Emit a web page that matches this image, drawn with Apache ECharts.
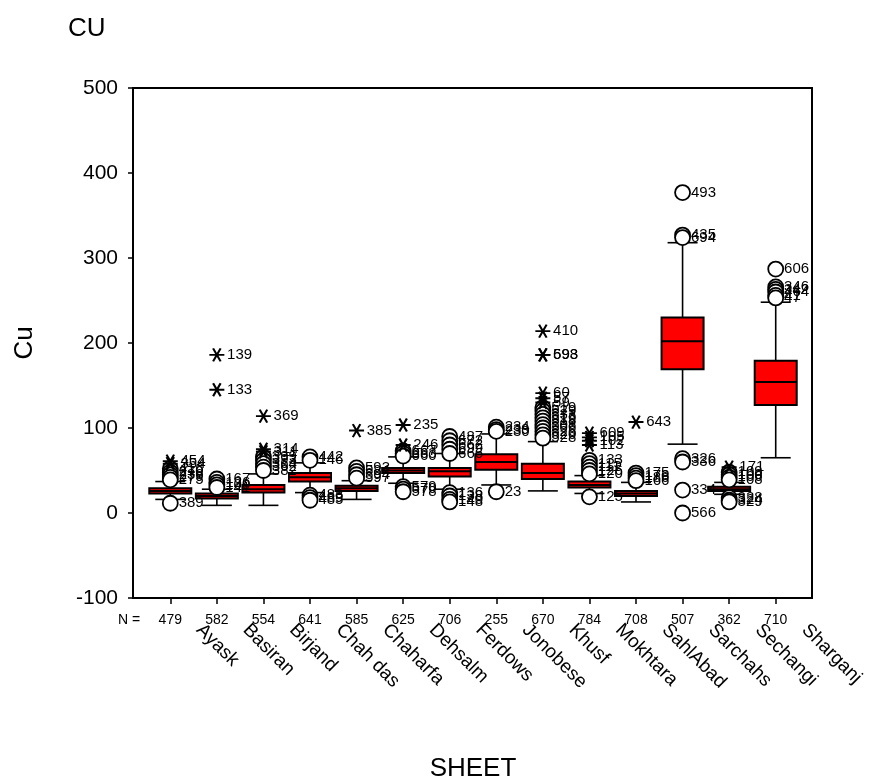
<!DOCTYPE html>
<html lang="en">
<head>
    <meta charset="UTF-8">
    <title>CU</title>
    <script src="https://cdn.jsdelivr.net/npm/echarts@6/dist/echarts.min.js"></script>
    <style>
        body { margin: 0; background: #fff; }
    </style>
</head>
<body>
    <div id="chart_div" style="width: 885px; height: 782px;"></div>
</body>
    <script type="text/javascript">

       // sites and case counts
       var sheets = ['Ayask', 'Basiran', 'Birjand', 'Chah das', 'Chaharfa', 'Dehsalm', 'Ferdows',
                     'Jonobese', 'Khusf', 'Mokhtara', 'SahlAbad', 'Sarchahs', 'Sechangi', 'Sharganj'];
       var counts = ['479', '582', '554', '641', '585', '625', '706', '255', '670', '784', '708', '507', '362', '710'];

       // box statistics
       var whiskerLow  = [16, 9, 9, 24, 16, 35, 28, 33, 26, 23, 13, 81, 22, 65];
       var q1          = [23, 17, 24, 37, 26, 47, 43, 51, 40, 30, 20, 169, 26, 127];
       var median      = [26, 20, 28, 42, 29, 50, 49, 60, 47, 33, 23, 202, 28, 154];
       var q3          = [29, 23, 33, 47, 32, 53, 53, 69, 58, 37, 26, 230, 31, 179];
       var whiskerHigh = [37, 28, 46, 59, 38, 66, 70, 93, 84, 44, 36, 318, 36, 248];

       // outliers (circles): [site index, value, case]
       var outliers = [
           [0, 52, '416'], [0, 48, '270'], [0, 45, '236'], [0, 42, '279'], [0, 39, '275'], [0, 11.5, '389'],
           [1, 40, '167'], [1, 36, '126'], [1, 33, '100'], [1, 30, '141'],
           [2, 66, '399'], [2, 62, '393'], [2, 58, '364'], [2, 54, '362'], [2, 50, '382'],
           [3, 66, '442'], [3, 62, '146'], [3, 21, '488'], [3, 18, '489'], [3, 15, '485'],
           [4, 53, '593'], [4, 49, '584'], [4, 45, '594'], [4, 41, '597'],
           [5, 73, '667'], [5, 70, '663'], [5, 67, '660'], [5, 31, '579'], [5, 28, '570'], [5, 25, '578'],
           [6, 90, '487'], [6, 85, '672'], [6, 80, '662'], [6, 75, '699'], [6, 70, '666'],
           [6, 24, '136'], [6, 20, '138'], [6, 16, '140'], [6, 13, '148'],
           [7, 101, '234'], [7, 98, '239'], [7, 96, '230'], [7, 25, '23'],
           [8, 124, '519'], [8, 120, '529'], [8, 116, '533'], [8, 112, '516'], [8, 108, '518'],
           [8, 104, '508'], [8, 100, '506'], [8, 96, '526'], [8, 92, '520'], [8, 88, '528'],
           [9, 62, '133'], [9, 58, '115'], [9, 54, '111'], [9, 50, '126'], [9, 46, '120'], [9, 19, '125'],
           [10, 47, '175'], [10, 44, '176'], [10, 41, '186'], [10, 38, '166'],
           [11, 377, '493'], [11, 327, '435'], [11, 324, '694'], [11, 64, '326'], [11, 60, '336'],
           [11, 27, '334'], [11, 0, '566'],
           [12, 48, '109'], [12, 45, '100'], [12, 42, '106'], [12, 39, '108'],
           [12, 18, '328'], [12, 15, '324'], [12, 13, '329'],
           [13, 287, '606'], [13, 266, '346'], [13, 263, '342'], [13, 260, '464'], [13, 256, '41'], [13, 253, '47']
       ];

       // extremes (asterisks): [site index, value, case]
       var extremes = [
           [0, 61, '454'], [0, 58, '354'],
           [1, 186, '139'], [1, 145, '133'],
           [2, 114, '369'], [2, 75, '314'], [2, 72, '311'],
           [4, 97, '385'],
           [5, 103.5, '235'], [5, 80, '246'],
           [8, 214, '410'], [8, 186, '598'], [8, 186, '693'], [8, 141, '60'], [8, 135, '57'], [8, 130, '59'],
           [9, 94, '609'], [9, 89, '105'], [9, 85, '102'], [9, 80, '113'],
           [10, 107, '643'],
           [12, 54, '171']
       ];

       var boxData = [];
       for (var i = 0; i < sheets.length; i++) {
           boxData.push([i, whiskerLow[i], q1[i], median[i], q3[i], whiskerHigh[i]]);
       }

       var font = 'Liberation Sans, Arial, sans-serif';
       var asterisk = 'path://M-1,0L1,0M-0.5,-0.87L0.5,0.87M-0.5,0.87L0.5,-0.87';

       function renderBox(params, api) {
           var x = api.value(0);
           var pLow = api.coord([x, api.value(1)]);
           var pQ1 = api.coord([x, api.value(2)]);
           var pMed = api.coord([x, api.value(3)]);
           var pQ3 = api.coord([x, api.value(4)]);
           var pHigh = api.coord([x, api.value(5)]);
           var cx = pMed[0];
           var hw = 21, cw = 15;
           var line = {stroke: '#000', lineWidth: 1.6};
           return {
               type: 'group',
               children: [
                   {type: 'line', shape: {x1: cx, y1: pQ3[1], x2: cx, y2: pHigh[1]}, style: line},
                   {type: 'line', shape: {x1: cx, y1: pQ1[1], x2: cx, y2: pLow[1]}, style: line},
                   {type: 'line', shape: {x1: cx - cw, y1: pHigh[1], x2: cx + cw, y2: pHigh[1]}, style: line},
                   {type: 'line', shape: {x1: cx - cw, y1: pLow[1], x2: cx + cw, y2: pLow[1]}, style: line},
                   {type: 'rect', shape: {x: cx - hw, y: pQ3[1], width: hw * 2, height: pQ1[1] - pQ3[1]},
                    style: {fill: '#ff0000', stroke: '#000', lineWidth: 2}},
                   {type: 'line', shape: {x1: cx - hw, y1: pMed[1], x2: cx + hw, y2: pMed[1]},
                    style: {stroke: '#000', lineWidth: 2}}
               ]
           };
       }

       var pointLabel = {
           show: true,
           position: 'right',
           distance: 0,
           color: '#000',
           fontSize: 15,
           fontFamily: font,
           formatter: function (p) { return p.data[2]; }
       };

       var chart = echarts.init(document.getElementById("chart_div"));
       var options = {
            animation: false,
            backgroundColor: '#fff',
            title: {
                text: 'CU',
                left: 63,
                top: 11,
                textStyle: {fontSize: 26, fontWeight: 'normal', fontFamily: font, color: '#000'}
            },
            graphic: [{
                type: 'text',
                left: 118,
                top: 613,
                style: {text: 'N =', fontSize: 14, fontFamily: font, fill: '#000'}
            }],
            grid: [
                // frame and value axis
                {left: 133, right: 73, top: 88, bottom: 184, show: true, borderColor: '#000', borderWidth: 2,
                 outerBoundsMode: 'none'},
                // boxes
                {left: 147, right: 86, top: 88, bottom: 184, show: false, outerBoundsMode: 'none'},
                // sheet names, drawn shifted like the original
                {left: 176, right: 57, top: 88, bottom: 184, show: false, outerBoundsMode: 'none'}
            ],
            xAxis: [
                {type: 'value', gridIndex: 0, min: 0, max: 1, show: false},
                {
                    type: 'category',
                    gridIndex: 1,
                    data: counts,
                    name: 'SHEET',
                    nameLocation: 'middle',
                    nameGap: 158,
                    nameTextStyle: {fontSize: 26, fontFamily: font, color: '#000'},
                    axisLine: {show: false, onZero: false},
                    axisTick: {show: true, alignWithLabel: true, length: 6, lineStyle: {color: '#000', width: 1.5}},
                    axisLabel: {margin: 15, fontSize: 14, fontFamily: font, color: '#000', interval: 0},
                    splitLine: {show: false}
                },
                {
                    type: 'category',
                    gridIndex: 2,
                    data: sheets,
                    axisLine: {show: false, onZero: false},
                    axisTick: {show: false},
                    axisLabel: {rotate: -45, margin: 29, fontSize: 19, fontFamily: font, color: '#000', interval: 0},
                    splitLine: {show: false}
                }
            ],
            yAxis: [
                {
                    type: 'value',
                    gridIndex: 0,
                    min: -100,
                    max: 500,
                    interval: 100,
                    name: 'Cu',
                    nameLocation: 'middle',
                    nameRotate: 90,
                    nameGap: 95,
                    nameTextStyle: {fontSize: 26, fontFamily: font, color: '#000'},
                    axisLine: {show: true, onZero: false, lineStyle: {color: '#000', width: 2}},
                    axisTick: {show: true, length: 5, lineStyle: {color: '#000', width: 1.5}},
                    axisLabel: {margin: 15, fontSize: 21, fontFamily: font, color: '#000'},
                    splitLine: {show: false}
                },
                {type: 'value', gridIndex: 1, min: -100, max: 500, show: false},
                {type: 'value', gridIndex: 2, min: -100, max: 500, show: false}
            ],
            series : [
                {
                    name: 'box',
                    type: 'custom',
                    xAxisIndex: 1,
                    yAxisIndex: 1,
                    renderItem: renderBox,
                    data: boxData,
                    z: 2
                },
                {
                    name: 'outliers',
                    type: 'scatter',
                    xAxisIndex: 1,
                    yAxisIndex: 1,
                    symbol: 'circle',
                    symbolSize: 15,
                    itemStyle: {color: '#fff', borderColor: '#000', borderWidth: 1.8, opacity: 1},
                    label: pointLabel,
                    data: outliers,
                    z: 3
                },
                {
                    name: 'extremes',
                    type: 'scatter',
                    xAxisIndex: 1,
                    yAxisIndex: 1,
                    symbol: asterisk,
                    symbolSize: [15, 13],
                    itemStyle: {color: 'none', borderColor: '#000', borderWidth: 2, opacity: 1},
                    label: pointLabel,
                    data: extremes,
                    z: 3
                }
            ]
       };
       chart.setOption(options);

    </script>
</html>
